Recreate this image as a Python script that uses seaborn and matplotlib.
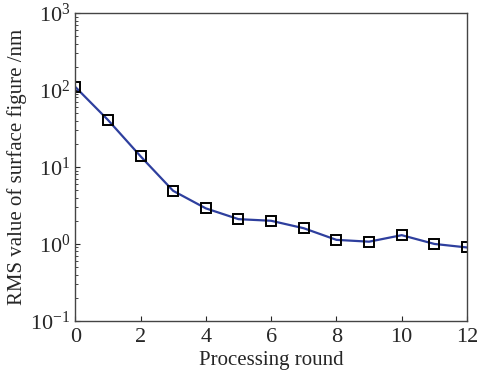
import seaborn as sns
import matplotlib.pyplot as plt
import matplotlib.ticker as mticker
import pandas as pd

rounds = [0, 1, 2, 3, 4, 5, 6, 7, 8, 9, 10, 11, 12]
rms_nm = [110, 41, 13.8, 4.9, 2.9, 2.1, 2.0, 1.6, 1.13, 1.07, 1.3, 1.0, 0.9]

df = pd.DataFrame({"round": rounds, "rms": rms_nm})

sns.set_style("ticks")
plt.rcParams["font.family"] = ["Liberation Serif", "DejaVu Serif"]
plt.rcParams["mathtext.fontset"] = "stix"

fig = plt.figure(figsize=(4.79, 3.74), dpi=100)
ax = fig.add_axes([0.157, 0.142, 0.818, 0.823])

sns.lineplot(x="round", y="rms", data=df, ax=ax,
             color="#2e3f9e", linewidth=1.6,
             marker="s", markersize=6.5, markerfacecolor="none",
             markeredgecolor="black", markeredgewidth=1.4)

ax.set_yscale("log")
ax.set_ylim(0.1, 1000)
ax.set_xlim(0, 12)
ax.set_xticks(range(0, 13, 2))
ax.yaxis.set_major_locator(mticker.LogLocator(base=10, numticks=10))
ax.yaxis.set_minor_locator(mticker.LogLocator(base=10, subs=range(2, 10), numticks=10))
ax.yaxis.set_minor_formatter(mticker.NullFormatter())

ax.tick_params(direction="in", labelsize=16, top=False, right=False)
ax.tick_params(axis="x", pad=5)
ax.tick_params(which="minor", direction="in", length=2.5)
for s in ax.spines.values():
    s.set_color("#444444")
    s.set_linewidth(1.0)

ax.set_xlabel("Processing round", fontsize=15, labelpad=3)
ax.set_ylabel("RMS value of surface figure /nm", fontsize=15, labelpad=2)

fig.savefig("out.png", dpi=100)
